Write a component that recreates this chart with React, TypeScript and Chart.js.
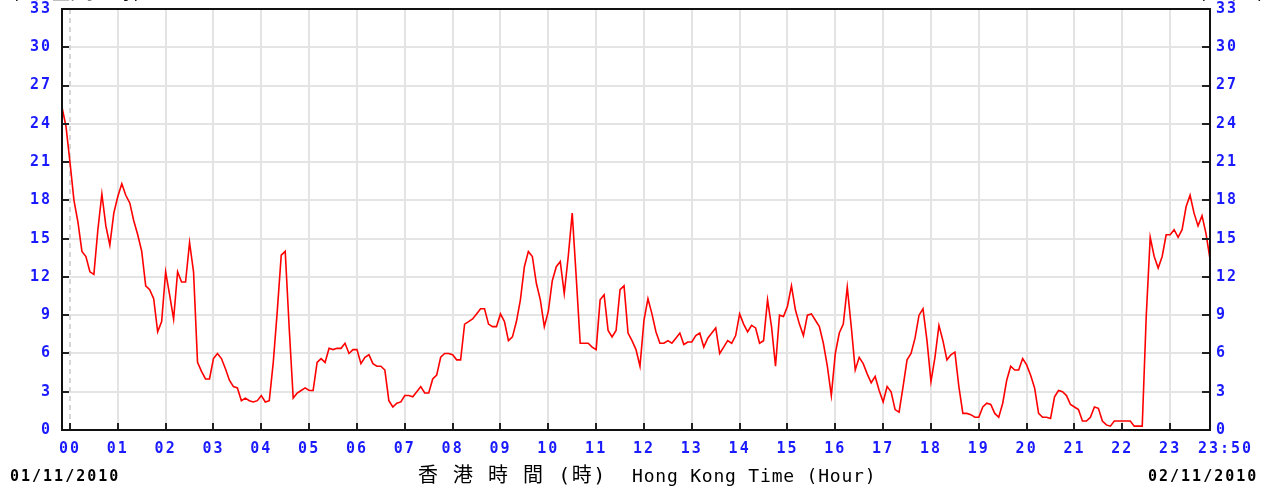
import React, { useEffect, useRef } from 'react';
import { Chart, registerables } from 'chart.js';

Chart.register(...registerables);

// ---- data (10-minute mean wind speed, km/h, sampled every 5 minutes) ----
const START_MINUTE = -10;
const STEP_MINUTES = 5;
const END_MINUTE = 1430;

const windSpeed: number[] = [
  25.3, 23.8,
  /* 00 */ 21.0, 18.0, 16.3, 14.0, 13.6, 12.4, 12.2, 15.7, 18.5, 16.0, 14.5, 17.0,
  /* 01 */ 18.3, 19.3, 18.4, 17.8, 16.4, 15.3, 14.0, 11.3, 11.0, 10.3, 7.7, 8.5,
  /* 02 */ 12.4, 10.6, 8.7, 12.4, 11.6, 11.6, 14.7, 12.4, 5.3, 4.6, 4.0, 4.0,
  /* 03 */ 5.6, 6.0, 5.6, 4.8, 3.9, 3.4, 3.3, 2.3, 2.5, 2.3, 2.2, 2.3,
  /* 04 */ 2.7, 2.2, 2.3, 5.3, 9.3, 13.7, 14.0, 8.0, 2.5, 2.9, 3.1, 3.3,
  /* 05 */ 3.1, 3.1, 5.3, 5.6, 5.3, 6.4, 6.3, 6.4, 6.4, 6.8, 6.0, 6.3,
  /* 06 */ 6.3, 5.2, 5.7, 5.9, 5.2, 5.0, 5.0, 4.7, 2.3, 1.8, 2.1, 2.2,
  /* 07 */ 2.7, 2.7, 2.6, 3.0, 3.4, 2.9, 2.9, 4.0, 4.3, 5.7, 6.0, 6.0,
  /* 08 */ 5.9, 5.5, 5.5, 8.3, 8.5, 8.7, 9.1, 9.5, 9.5, 8.3, 8.1, 8.1,
  /* 09 */ 9.1, 8.5, 7.0, 7.3, 8.5, 10.2, 12.8, 14.0, 13.6, 11.5, 10.2, 8.1,
  /* 10 */ 9.3, 11.7, 12.8, 13.2, 10.7, 13.6, 17.0, 12.0, 6.8, 6.8, 6.8, 6.5,
  /* 11 */ 6.3, 10.2, 10.6, 7.8, 7.3, 7.8, 11.0, 11.3, 7.6, 7.0, 6.3, 5.0,
  /* 12 */ 8.6, 10.3, 9.1, 7.7, 6.8, 6.8, 7.0, 6.8, 7.2, 7.6, 6.7, 6.9,
  /* 13 */ 6.9, 7.4, 7.6, 6.5, 7.2, 7.6, 8.0, 6.0, 6.5, 7.0, 6.8, 7.4,
  /* 14 */ 9.1, 8.3, 7.7, 8.2, 8.0, 6.8, 7.0, 10.2, 8.1, 5.0, 9.0, 8.9,
  /* 15 */ 9.7, 11.3, 9.4, 8.3, 7.4, 9.0, 9.1, 8.6, 8.1, 6.8, 5.0, 2.7,
  /* 16 */ 6.0, 7.6, 8.3, 11.2, 8.1, 4.7, 5.7, 5.2, 4.4, 3.7, 4.2, 3.1,
  /* 17 */ 2.2, 3.4, 3.0, 1.6, 1.4, 3.4, 5.5, 6.0, 7.2, 9.0, 9.5, 7.0,
  /* 18 */ 3.8, 5.7, 8.2, 7.0, 5.5, 5.9, 6.1, 3.4, 1.3, 1.3, 1.2, 1.0,
  /* 19 */ 1.0, 1.8, 2.1, 2.0, 1.3, 1.0, 2.1, 3.9, 5.0, 4.7, 4.7, 5.6,
  /* 20 */ 5.1, 4.3, 3.3, 1.3, 1.0, 1.0, 0.9, 2.6, 3.1, 3.0, 2.7, 2.0,
  /* 21 */ 1.8, 1.6, 0.7, 0.7, 1.0, 1.8, 1.7, 0.7, 0.4, 0.3, 0.7, 0.7,
  /* 22 */ 0.7, 0.7, 0.7, 0.3, 0.3, 0.3, 8.9, 15.1, 13.6, 12.7, 13.6, 15.3,
  /* 23 */ 15.3, 15.7, 15.1, 15.7, 17.5, 18.4, 17.0, 16.0, 16.8, 15.4, 13.4,
];

const hourLabels = ['00', '01', '02', '03', '04', '05', '06', '07', '08', '09', '10', '11',
  '12', '13', '14', '15', '16', '17', '18', '19', '20', '21', '22', '23'];
const endLabel = '23:50';
const yTickValues = [0, 3, 6, 9, 12, 15, 18, 21, 24, 27, 30, 33];
const dateStart = '01/11/2010';
const dateEnd = '02/11/2010';
const titleZh = '香 港 時 間 (時)';
const titleEn = 'Hong Kong Time (Hour)';
const unitLeft = '(公 里/小 時)';
const unitRight = '(km/h)';

const BLUE = '#1a1aff';
const GRID = '#e4e4e4';
const MONO = '"DejaVu Sans Mono", monospace';
const TICK_FONT = { family: MONO, size: 15, weight: 'bold' as const };

const hourMinutes = hourLabels.map((_, i) => i * 60);

const decorPlugin = {
  id: 'decor',
  beforeDraw(chart: any) {
    chart.ctx.letterSpacing = '2px';
  },
  beforeDatasetsDraw(chart: any) {
    const { ctx, chartArea, scales } = chart;
    const x0 = Math.round(scales.x.getPixelForValue(0));
    ctx.save();
    ctx.letterSpacing = '0px';
    ctx.strokeStyle = '#d6d6d6';
    ctx.lineWidth = 2;
    ctx.setLineDash([5, 4]);
    ctx.beginPath();
    ctx.moveTo(x0, chartArea.top);
    ctx.lineTo(x0, chartArea.bottom);
    ctx.stroke();
    ctx.restore();
  },
  afterDraw(chart: any) {
    const { ctx, chartArea, scales } = chart;
    const { left, right, top, bottom } = chartArea;
    ctx.save();
    // inward ticks
    ctx.strokeStyle = '#222';
    ctx.lineWidth = 2;
    ctx.beginPath();
    hourMinutes.forEach((m) => {
      const px = Math.round(scales.x.getPixelForValue(m));
      ctx.moveTo(px, bottom);
      ctx.lineTo(px, bottom - 7);
    });
    yTickValues.forEach((v) => {
      if (v === 0 || v === 33) return;
      const py = Math.round(scales.y.getPixelForValue(v));
      ctx.moveTo(left, py);
      ctx.lineTo(left + 7, py);
      ctx.moveTo(right, py);
      ctx.lineTo(right - 8, py);
    });
    ctx.stroke();
    // frame
    ctx.strokeStyle = '#111';
    ctx.lineWidth = 2;
    ctx.strokeRect(left, top, right - left, bottom - top);

    // texts
    ctx.textBaseline = 'middle';
    ctx.textAlign = 'left';
    ctx.letterSpacing = '2px';
    ctx.font = `bold 15px ${MONO}`;
    ctx.fillStyle = BLUE;
    ctx.fillText(endLabel, scales.x.getPixelForValue(END_MINUTE) - 12, 449);
    ctx.fillStyle = '#000';
    ctx.fillText(dateStart, 10, 477);
    ctx.fillText(dateEnd, 1148, 477);

    ctx.letterSpacing = '1.5px';
    ctx.font = `20px ${MONO}, "Noto Sans CJK TC"`;
    ctx.fillText(titleZh, 418, 477);
    ctx.letterSpacing = '0.8px';
    ctx.font = `18px ${MONO}`;
    ctx.fillText(titleEn, 632, 477);

    ctx.textBaseline = 'alphabetic';
    ctx.letterSpacing = '0.8px';
    ctx.font = `18px ${MONO}, "Noto Sans CJK TC"`;
    ctx.fillText(unitLeft, 10, -1);
    ctx.fillText(unitRight, 1197, -1);
    ctx.restore();
  },
};

export default function App() {
  const canvasRef = useRef<HTMLCanvasElement | null>(null);

  useEffect(() => {
    const canvas = canvasRef.current;
    if (!canvas) return;
    const points = windSpeed.map((v, i) => ({ x: START_MINUTE + i * STEP_MINUTES, y: v }));
    const chart = new Chart(canvas, {
      type: 'line',
      data: {
        datasets: [
          {
            data: points,
            borderColor: '#ff0000',
            borderWidth: 1.6,
            pointRadius: 0,
            tension: 0,
            fill: false,
            yAxisID: 'y',
          },
        ],
      },
      options: {
        animation: false,
        responsive: false,
        devicePixelRatio: 1,
        layout: { padding: { top: 9, left: 0, right: 0, bottom: 0 } },
        plugins: {
          legend: { display: false },
          tooltip: { enabled: false },
        },
        scales: {
          x: {
            type: 'linear',
            min: START_MINUTE,
            max: END_MINUTE,
            afterBuildTicks: (scale: any) => {
              scale.ticks = hourMinutes.map((v) => ({ value: v }));
            },
            afterFit: (scale: any) => {
              scale.height = 63;
              scale.paddingLeft = 0;
              scale.paddingRight = 0;
            },
            grid: {
              color: (c: any) => (c.tick && c.tick.value === 0 ? 'rgba(0,0,0,0)' : GRID),
              lineWidth: 2,
              drawTicks: false,
            },
            border: { display: false },
            ticks: {
              autoSkip: false,
              maxRotation: 0,
              padding: 10,
              color: BLUE,
              font: TICK_FONT,
              callback: (v: any) => hourLabels[Math.round(Number(v) / 60)] ?? '',
            },
          },
          y: {
            type: 'linear',
            position: 'left',
            min: 0,
            max: 33,
            afterBuildTicks: (scale: any) => {
              scale.ticks = yTickValues.map((v) => ({ value: v }));
            },
            afterFit: (scale: any) => {
              scale.width = 62;
              scale.paddingTop = 0;
              scale.paddingBottom = 0;
            },
            grid: {
              color: (c: any) =>
                c.tick && (c.tick.value === 0 || c.tick.value === 33) ? 'rgba(0,0,0,0)' : GRID,
              lineWidth: 2,
              drawTicks: false,
            },
            border: { display: false },
            ticks: { padding: 10, color: BLUE, font: TICK_FONT },
          },
          y2: {
            type: 'linear',
            position: 'right',
            min: 0,
            max: 33,
            afterBuildTicks: (scale: any) => {
              scale.ticks = yTickValues.map((v) => ({ value: v }));
            },
            afterFit: (scale: any) => {
              scale.width = 69;
              scale.paddingTop = 0;
              scale.paddingBottom = 0;
            },
            grid: { drawOnChartArea: false, drawTicks: false },
            border: { display: false },
            ticks: { padding: 6, color: BLUE, font: TICK_FONT },
          },
        },
      },
      plugins: [decorPlugin],
    });
    return () => chart.destroy();
  }, []);

  return (
    <div style={{ position: 'absolute', left: 0, top: 0, width: 1279, height: 493, background: '#fff' }}>
      <canvas ref={canvasRef} width={1279} height={493} style={{ display: 'block' }} />
    </div>
  );
}
